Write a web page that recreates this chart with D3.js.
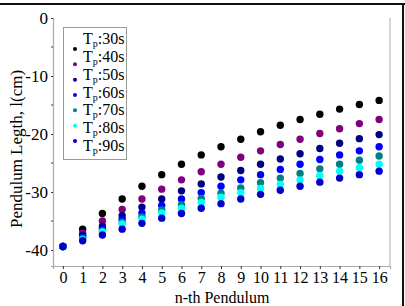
<!DOCTYPE html>
<html>
<head>
<meta charset="UTF-8">
<script src="https://cdn.jsdelivr.net/npm/d3@7"></script>
<style>
  body { margin: 0; background: #fff; }
</style>
</head>
<body>
<svg width="405" height="306"></svg>
<script>
// pendulum index
const nth = d3.range(0, 17);
// series names (period in s)
const periods = [30, 40, 50, 60, 70, 80, 90];
const colors = ["#000000", "#800080", "#000080", "#0000ff", "#008080", "#00ffff", "#0000c8"];
// lengths (cm), per series
const tp30 = [-39.4, -36.4, -33.7, -31.2, -29.0, -27.0, -25.2, -23.6, -22.2, -20.9, -19.6, -18.5, -17.5, -16.6, -15.7, -14.9, -14.2];
const tp40 = [-39.4, -37.1, -35.0, -33.0, -31.2, -29.5, -27.9, -26.5, -25.2, -24.0, -22.9, -21.8, -20.9, -19.9, -19.1, -18.2, -17.5];
const tp50 = [-39.4, -37.5, -35.9, -34.1, -32.6, -31.2, -29.8, -28.6, -27.4, -26.3, -25.2, -24.3, -23.4, -22.5, -21.6, -20.8, -20.1];
const tp60 = [-39.4, -37.8, -36.3, -34.7, -33.6, -32.3, -31.2, -30.1, -29.0, -27.9, -27.0, -26.1, -25.2, -24.4, -23.6, -22.9, -22.2];
const tp70 = [-39.4, -38.0, -36.7, -35.2, -34.3, -33.1, -32.2, -31.1, -30.2, -29.3, -28.4, -27.6, -26.8, -26.0, -25.2, -24.5, -23.8];
const tp80 = [-39.4, -38.2, -36.9, -35.5, -34.7, -33.6, -32.8, -31.8, -30.9, -30.1, -29.4, -28.7, -27.9, -27.2, -26.4, -25.8, -25.2];
const tp90 = [-39.4, -38.4, -37.4, -36.4, -35.4, -34.5, -33.7, -32.8, -32.0, -31.2, -30.4, -29.7, -29.0, -28.3, -27.6, -27.0, -26.4];
const series = [tp30, tp40, tp50, tp60, tp70, tp80, tp90];
const yTicks = [0, -10, -20, -30, -40];
const yMinor = [-5, -15, -25, -35];

const FONT = "Liberation Serif";
const svg = d3.select("svg").attr("font-family", FONT);
const pLeft = 53, pRight = 390, pTop = 18, pBottom = 266;

const x = d3.scaleLinear().domain([-0.5, 16.55]).range([pLeft, pRight]);
const y = d3.scaleLinear().domain([0, -42.75]).range([pTop, pBottom]);

// outer frame (top and right edges show)
svg.append("line").attr("x1", 0).attr("x2", 405).attr("y1", 4).attr("y2", 4)
  .attr("stroke", "#111").attr("stroke-width", 2);
svg.append("line").attr("x1", 403).attr("x2", 403).attr("y1", 3).attr("y2", 306)
  .attr("stroke", "#111").attr("stroke-width", 2);

// plot border on the right
svg.append("line").attr("x1", pRight).attr("x2", pRight).attr("y1", pTop).attr("y2", pBottom)
  .attr("stroke", "#bbb").attr("stroke-width", 1.2);

// x axis
const gx = svg.append("g")
  .attr("transform", `translate(0,${pBottom})`)
  .call(d3.axisBottom(x).tickValues(nth).tickSize(3).tickPadding(3).tickFormat(d => String(d)));
gx.attr("font-family", FONT).attr("font-size", 16);
gx.select(".domain").attr("stroke", "#aaa").attr("stroke-width", 1.2);
gx.selectAll(".tick line").attr("stroke", "#333");

// y axis (plain hyphen minus like the original)
const gy = svg.append("g")
  .attr("transform", `translate(${pLeft},0)`)
  .call(d3.axisLeft(y).tickValues(yTicks).tickSize(2).tickPadding(3).tickFormat(d => String(d)));
gy.attr("font-family", FONT).attr("font-size", 17);
gy.select(".domain").attr("stroke", "#aaa").attr("stroke-width", 1.2);
gy.selectAll(".tick line").attr("stroke", "#333");
gy.selectAll(".minor").data(yMinor).enter().append("line")
  .attr("x1", -2).attr("x2", 0)
  .attr("y1", d => y(d)).attr("y2", d => y(d))
  .attr("stroke", "#333");

// axis titles
svg.append("text")
  .attr("x", 222).attr("y", 303)
  .attr("text-anchor", "middle").attr("font-size", 16)
  .text("n-th Pendulum");
svg.append("text")
  .attr("transform", "translate(22,149) rotate(-90)")
  .attr("text-anchor", "middle").attr("font-size", 17)
  .text("Pendulum Legth, l(cm)");

// points
series.forEach((vals, i) => {
  svg.append("g").selectAll("circle")
    .data(vals).enter().append("circle")
    .attr("cx", (d, j) => x(nth[j]))
    .attr("cy", d => y(d))
    .attr("r", 3.7)
    .attr("fill", colors[i]);
});

// legend
const lg = svg.append("g");
lg.append("rect").attr("x", 63.5).attr("y", 27.5).attr("width", 63).attr("height", 132)
  .attr("fill", "#fff").attr("stroke", "#999");
const textY = d3.scaleLinear().domain([0, 6]).range([44, 151]);
const dotY = d3.scaleLinear().domain([0, 6]).range([49, 141]);
periods.forEach((p, i) => {
  lg.append("circle").attr("cx", 75).attr("cy", dotY(i)).attr("r", 2).attr("fill", colors[i]);
  const t = lg.append("text").attr("x", 83).attr("y", textY(i)).attr("font-size", 16);
  t.append("tspan").text("T");
  t.append("tspan").attr("dy", 3).attr("font-size", 10).text("p");
  t.append("tspan").attr("dy", -3).text(":" + p + "s");
});
</script>
</body>
</html>
